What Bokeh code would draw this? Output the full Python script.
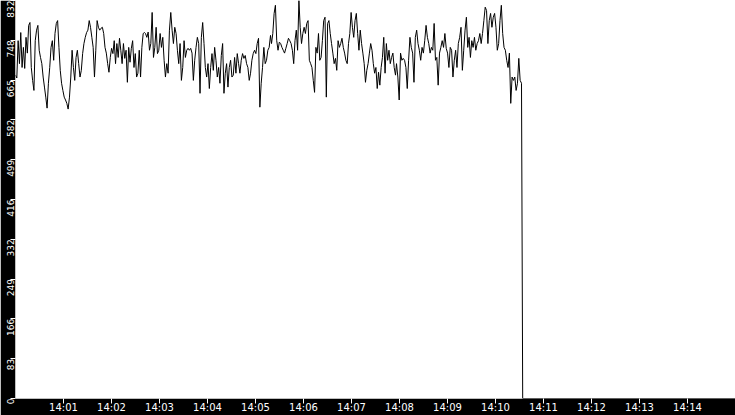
import math
import pandas as pd
from bokeh.plotting import figure
from bokeh.models import Range1d, FixedTicker, DatetimeTickFormatter, ColumnDataSource
from bokeh.embed import file_html
from bokeh.resources import INLINE

# ---- data (values per sample) ----
seg1_values = [676, 670, 748, 700, 765, 692, 734, 690, 755, 722, 780, 786, 692, 665, 644, 748, 770, 780, 728, 713,
               700, 672, 651, 630, 607, 659, 692, 734, 748, 707, 763, 784, 790, 734, 686, 659, 644, 630, 624, 617,
               605, 630, 672, 728, 692, 665, 713, 728, 700, 672, 686, 721, 742, 755, 765, 770, 790, 776, 755, 734,
               672, 728, 790, 776, 770, 774, 776, 763, 734, 722, 700, 682, 713, 732, 721, 748, 700, 742, 713, 753,
               728, 700, 742, 711, 728, 661, 734, 703, 732, 748, 692, 721, 672, 680, 728, 672, 734, 763, 765]
seg2_values = [763, 755, 766, 728, 742, 807, 713, 734, 776, 721, 728, 763, 734, 755, 707, 672, 700, 680, 770, 807,
               770, 742, 776, 763, 728, 700, 742, 665, 692, 748, 713, 728, 732, 728, 732, 722, 665, 707, 734, 755,
               742, 638, 755, 786, 742, 692, 672, 700, 648, 692, 721, 686, 734, 707, 672, 692, 659, 717, 742, 638,
               680, 700, 651, 692, 707, 672, 676, 713, 680, 721, 700, 680, 707, 721, 711, 717, 700, 692, 665, 680,
               707, 721, 728, 721, 742, 753, 609, 659, 692, 734, 700, 707, 728, 734, 759]
seg3_values = [742, 763, 805, 822, 748, 728, 745, 742, 734, 728, 722, 732, 742, 753, 748, 742, 728, 700, 748, 770,
               728, 832, 776, 742, 763, 776, 763, 784, 790, 707, 700, 692, 665, 640, 734, 722, 763, 707, 713, 748,
               790, 797, 630, 784, 790, 763, 742, 722, 700, 711, 686, 748, 734, 742, 753, 734, 722, 707, 700, 742,
               763, 807, 776, 755, 790, 805, 763, 728, 770, 742, 722, 700, 661, 686, 700, 722, 742, 728, 700, 680,
               692, 648, 682, 655, 692, 713, 755, 680, 742, 707, 728, 700, 713, 722, 692, 676]
seg4_values = [700, 672, 624, 722, 707, 711, 707, 692, 648, 707, 755, 734, 722, 661, 755, 770, 742, 728, 707, 734,
               722, 748, 780, 755, 742, 722, 734, 728, 784, 707, 713, 655, 722, 734, 748, 734, 763, 732, 722, 692,
               734, 728, 672, 707, 728, 692, 742, 755, 776, 686, 728, 770, 797, 734, 755, 713, 748, 734, 755, 728,
               742, 748, 763, 742, 763, 790, 818, 811, 742, 790, 805, 776, 797, 805, 776, 728, 742, 790, 822, 763,
               734, 728, 707, 692, 722, 617, 672, 665, 672, 644, 659, 711, 665, 659]
# seconds after 14:00:00 covered by each segment of samples
seg_seconds = [(0.0, 161.25), (162.5, 318.75), (320.0, 475.0), (476.25, 632.5)]
# after the drop the series is zero
tail_seconds = [634.0, 900.0]
tail_values = [0, 0]

y_ticks = [0, 83.2, 166.4, 249.6, 332.8, 416.0, 499.2, 582.4, 665.6, 748.8, 832.0]
y_tick_labels = ["0", "83", "166", "249", "332", "416", "499", "582", "665", "748", "832"]
x_tick_labels = ["14:01", "14:02", "14:03", "14:04", "14:05", "14:06", "14:07",
                 "14:08", "14:09", "14:10", "14:11", "14:12", "14:13", "14:14"]

base = pd.Timestamp("2024-01-01 14:00:00")
secs, vals = [], []
for seg, (s0, s1) in zip([seg1_values, seg2_values, seg3_values, seg4_values], seg_seconds):
    n = len(seg)
    for i, v in enumerate(seg):
        secs.append(s0 + (s1 - s0) * i / (n - 1))
        vals.append(v)
secs += tail_seconds
vals += tail_values
times = base + pd.to_timedelta(secs, unit="s")

src = ColumnDataSource(dict(t=times, v=vals))

x_start = base
x_end = base + pd.Timedelta(minutes=15)

p = figure(width=735, height=415, x_axis_type="datetime", output_backend="svg", toolbar_location=None,
           x_range=Range1d(x_start, x_end), y_range=Range1d(0, 832),
           min_border_left=15, min_border_bottom=16, min_border_top=0, min_border_right=0,
           background_fill_color="white", border_fill_color="black", outline_line_color=None)

p.line("t", "v", source=src, line_color="black", line_width=1)

tick_ms = [(base + pd.Timedelta(minutes=i + 1)).value / 1e6 for i in range(len(x_tick_labels))]
p.xaxis.ticker = FixedTicker(ticks=tick_ms)
p.xaxis.major_label_overrides = {t: lab for t, lab in zip(tick_ms, x_tick_labels)}
p.xaxis.formatter = DatetimeTickFormatter(minutes="%H:%M", hourmin="%H:%M", hours="%H:%M", minsec="%H:%M")

p.yaxis.ticker = FixedTicker(ticks=y_ticks)
p.yaxis.major_label_overrides = {t: lab for t, lab in zip(y_ticks, y_tick_labels)}
p.yaxis.major_label_orientation = math.pi / 2

for ax in (p.xaxis, p.yaxis):
    ax.axis_line_color = None
    ax.major_tick_line_color = "white"
    ax.major_tick_in = 0
    ax.major_tick_out = 5
    ax.minor_tick_line_color = None
    ax.major_label_text_color = "white"
    ax.major_label_text_font = "DejaVu Sans"
    ax.major_label_standoff = 0

p.xaxis.major_label_standoff = -2
p.xaxis.major_label_text_font_size = "10px"
p.yaxis.major_label_text_font_size = "9px"
p.grid.visible = False

open("out.html", "w").write(file_html(p, INLINE))
